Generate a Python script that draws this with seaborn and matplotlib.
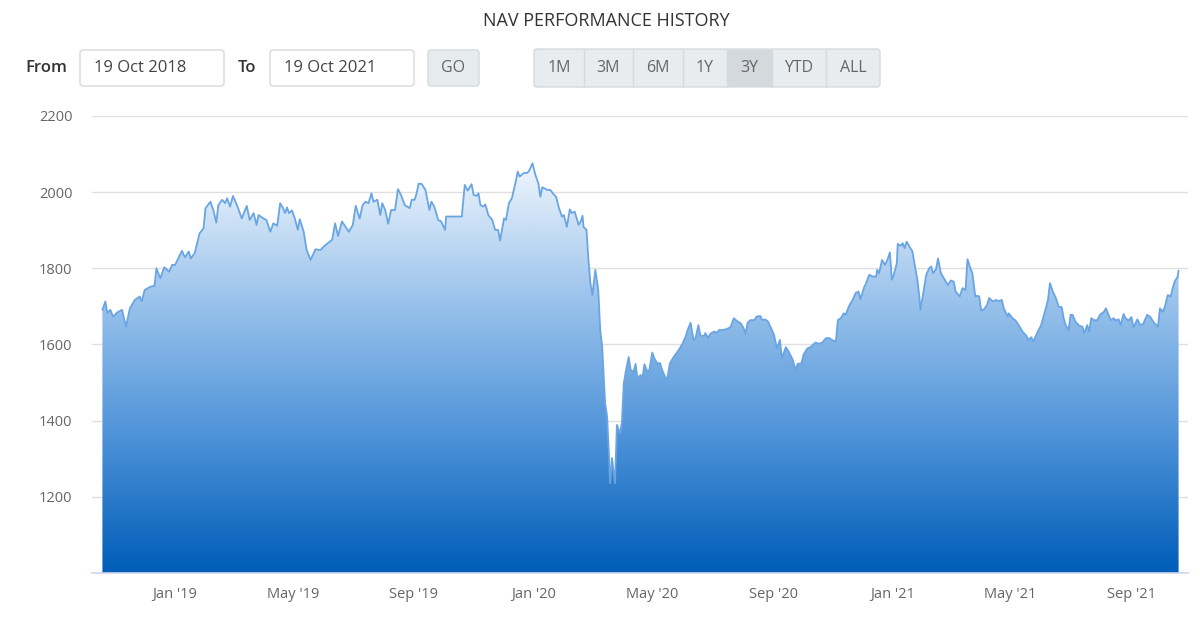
import numpy as np
import pandas as pd
import matplotlib
matplotlib.use("Agg")
import matplotlib.pyplot as plt
import matplotlib.dates as mdates
from matplotlib.colors import LinearSegmentedColormap
from matplotlib.patches import FancyBboxPatch, Rectangle
import seaborn as sns

# ---------------- data ----------------
start_date = "2018-10-19"
end_date = "2021-10-19"
# trading-day offsets (days since start_date) and NAV values
day_offsets = [
    0, 3, 5, 8, 11, 15, 20, 24, 28, 33, 38, 40, 43, 49, 53, 55, 59, 63, 68, 71,
    74, 81, 84, 88, 90, 94, 99, 103, 105, 110, 113, 116, 118, 122, 125, 127, 130, 133, 137, 142,
    147, 150, 154, 157, 159, 164, 167, 171, 174, 178, 181, 184, 186, 188, 190, 193, 196, 199, 201, 205,
    208, 212, 217, 222, 227, 234, 237, 240, 244, 251, 255, 258, 262, 265, 268, 271, 274, 276, 280, 283,
    285, 288, 291, 294, 298, 301, 304, 308, 313, 315, 318, 320, 322, 325, 329, 333, 335, 338, 342, 345,
    349, 350, 366, 369, 372, 376, 378, 381, 383, 385, 388, 390, 393, 397, 400, 403, 405, 409, 411, 414,
    417, 421, 423, 425, 429, 433, 435, 438, 441, 444, 446, 448, 453, 456, 460, 462, 465, 468, 470, 473,
    476, 478, 481, 485, 487, 489, 490, 493, 495, 497, 499, 502, 505, 507, 509, 512, 514, 516, 517, 519,
    522, 524, 527, 529, 531, 533, 536, 538, 541, 543, 545, 548, 550, 552, 555, 557, 560, 562, 565, 568,
    570, 573, 575, 578, 582, 587, 591, 594, 596, 599, 602, 604, 607, 609, 613, 614, 617, 619, 623, 626,
    628, 631, 635, 638, 640, 643, 647, 650, 653, 655, 657, 660, 664, 666, 670, 672, 675, 678, 681, 684,
    687, 690, 692, 696, 699, 703, 706, 708, 712, 714, 718, 721, 726, 730, 733, 737, 740, 743, 747, 749,
    752, 755, 757, 760, 764, 767, 770, 772, 776, 777, 781, 784, 788, 789, 791, 794, 797, 800, 802, 804,
    806, 809, 810, 813, 815, 817, 819, 822, 825, 827, 830, 832, 833, 836, 839, 842, 844, 846, 849, 851,
    854, 857, 861, 864, 867, 869, 873, 876, 879, 881, 884, 886, 889, 891, 893, 895, 898, 901, 903, 907,
    910, 913, 916, 918, 922, 923, 927, 930, 934, 937, 941, 943, 946, 948, 952, 956, 959, 963, 965, 968,
    971, 974, 977, 979, 981, 984, 986, 988, 991, 995, 998, 1000, 1003, 1005, 1007, 1010, 1013, 1016, 1020, 1022,
    1024, 1027, 1030, 1032, 1035, 1037, 1040, 1042, 1045, 1048, 1050, 1054, 1057, 1060, 1064, 1067, 1071, 1075, 1077, 1080,
    1082, 1085, 1088, 1090, 1092, 1095, 1096,
]
nav_values = [
    1691, 1713, 1683, 1691, 1673, 1684, 1691, 1647, 1695, 1717, 1726, 1713, 1743, 1752, 1754, 1800, 1774, 1803, 1791, 1809,
    1809, 1846, 1829, 1844, 1826, 1840, 1892, 1905, 1958, 1975, 1953, 1920, 1966, 1980, 1971, 1984, 1962, 1990, 1966, 1931,
    1964, 1927, 1945, 1914, 1940, 1931, 1927, 1896, 1918, 1912, 1971, 1958, 1945, 1960, 1945, 1952, 1931, 1901, 1929, 1896,
    1848, 1822, 1850, 1848, 1861, 1875, 1918, 1885, 1923, 1896, 1914, 1964, 1931, 1966, 1975, 1971, 1997, 1975, 1980, 1940,
    1971, 1953, 1917, 1953, 1953, 2008, 1993, 1966, 1958, 1980, 1980, 1997, 2022, 2022, 2006, 1953, 1975, 1962, 1927, 1923,
    1901, 1936, 1936, 2019, 2004, 2021, 1993, 1990, 1997, 1966, 1962, 1968, 1940, 1927, 1901, 1901, 1873, 1931, 1927, 1971,
    1984, 2028, 2054, 2041, 2050, 2051, 2058, 2076, 2045, 2023, 1988, 2013, 2006, 2006, 1993, 1988, 1958, 1936, 1940, 1909,
    1955, 1945, 1949, 1914, 1923, 1938, 1909, 1901, 1822, 1761, 1730, 1796, 1743, 1638, 1594, 1446, 1411, 1306, 1236, 1302,
    1236, 1389, 1367, 1393, 1498, 1529, 1567, 1533, 1529, 1549, 1510, 1520, 1512, 1548, 1529, 1533, 1579, 1564, 1551, 1551,
    1533, 1516, 1507, 1551, 1568, 1586, 1603, 1621, 1638, 1657, 1612, 1617, 1651, 1623, 1623, 1630, 1617, 1628, 1634, 1631,
    1638, 1638, 1640, 1643, 1647, 1669, 1660, 1656, 1643, 1628, 1657, 1664, 1664, 1673, 1675, 1664, 1666, 1660, 1643, 1625,
    1590, 1612, 1564, 1593, 1581, 1560, 1533, 1549, 1551, 1573, 1590, 1593, 1605, 1602, 1605, 1617, 1617, 1612, 1608, 1664,
    1669, 1682, 1678, 1699, 1717, 1735, 1739, 1719, 1752, 1756, 1783, 1779, 1778, 1796, 1787, 1822, 1809, 1826, 1842, 1770,
    1783, 1813, 1864, 1859, 1866, 1853, 1870, 1857, 1844, 1813, 1770, 1726, 1691, 1735, 1783, 1800, 1805, 1787, 1798, 1826,
    1787, 1774, 1756, 1768, 1765, 1739, 1726, 1748, 1743, 1824, 1800, 1787, 1726, 1728, 1726, 1689, 1693, 1704, 1722, 1713,
    1717, 1714, 1717, 1695, 1673, 1682, 1669, 1663, 1647, 1634, 1623, 1612, 1619, 1608, 1630, 1651, 1678, 1717, 1761, 1739,
    1722, 1699, 1698, 1669, 1651, 1638, 1678, 1678, 1660, 1649, 1647, 1630, 1651, 1634, 1669, 1664, 1663, 1678, 1686, 1695,
    1682, 1664, 1669, 1663, 1666, 1651, 1680, 1669, 1663, 1672, 1645, 1666, 1651, 1654, 1678, 1673, 1657, 1647, 1695, 1686,
    1699, 1730, 1726, 1748, 1765, 1778, 1794,
]
y_ticks = [1200, 1400, 1600, 1800, 2000, 2200]
x_tick_dates = ["2019-01-01", "2019-05-01", "2019-09-01", "2020-01-01", "2020-05-01",
                "2020-09-01", "2021-01-01", "2021-05-01", "2021-09-01"]
x_tick_labels = ["Jan '19", "May '19", "Sep '19", "Jan '20", "May '20",
                 "Sep '20", "Jan '21", "May '21", "Sep '21"]
title_text = "NAV PERFORMANCE HISTORY"
from_text, to_text = "From", "To"
from_value, to_value = "19 Oct 2018", "19 Oct 2021"
go_text = "GO"
range_buttons = ["1M", "3M", "6M", "1Y", "3Y", "YTD", "ALL"]
selected_button = "3Y"

# ---------------- build frame ----------------
dates = pd.Timestamp(start_date) + pd.to_timedelta(day_offsets, unit="D")
df = pd.DataFrame({"date": dates, "nav": nav_values})

sns.set_theme(style="white")
plt.rcParams["font.family"] = ["Open Sans", "DejaVu Sans"]

W, H = 1200, 621
fig = plt.figure(figsize=(W / 100, H / 100), dpi=100)
fig.patch.set_facecolor("white")

# background axes in pixel coordinates for the header controls
bg = fig.add_axes([0, 0, 1, 1], zorder=0)
bg.set_xlim(0, W)
bg.set_ylim(H, 0)
bg.axis("off")

txt_dark = "#333333"
txt_gray = "#666666"
bg.text(606, 21, title_text, ha="center", va="center", fontsize=13, color=txt_dark)
bg.text(25, 68.5, from_text, ha="left", va="center", fontsize=12, color=txt_dark, fontweight="semibold")
bg.text(238, 68.5, to_text, ha="left", va="center", fontsize=12, color=txt_dark, fontweight="semibold")

def box(x0, x1, y0, y1, fc, ec, r=3):
    p = FancyBboxPatch((x0 + r, y0 + r), (x1 - x0) - 2 * r, (y1 - y0) - 2 * r,
                       boxstyle=f"round,pad={r}", fc=fc, ec=ec, lw=1.0)
    bg.add_patch(p)

box(80, 224, 50, 86, "white", "#d9d9d9")
bg.text(94, 68.5, from_value, ha="left", va="center", fontsize=12, color="#444444")
box(270, 414, 50, 86, "white", "#d9d9d9")
bg.text(284, 68.5, to_value, ha="left", va="center", fontsize=12, color="#444444")
box(428, 479, 50, 86, "#e6ebed", "#d6dadd")
bg.text(453.5, 68.5, go_text, ha="center", va="center", fontsize=11.5, color=txt_gray)

btn_edges = [534, 584, 633, 683, 727, 772, 826, 880]
box(btn_edges[0], btn_edges[-1], 49, 87, "#e8ecee", "#d6dadd")
for i, lab in enumerate(range_buttons):
    x0, x1 = btn_edges[i], btn_edges[i + 1]
    if lab == selected_button:
        bg.add_patch(Rectangle((x0, 49.5), x1 - x0, 37, fc="#d3d9dc", ec="none"))
    if i > 0:
        bg.plot([x0, x0], [49.5, 86.5], color="#d6dadd", lw=1.0)
    bg.text((x0 + x1) / 2, 68.5, lab, ha="center", va="center", fontsize=11.5, color=txt_gray)

# ---------------- main chart ----------------
left_px, right_px, top_px, bot_px = 92, 1188, 116, 573
ax = fig.add_axes([left_px / W, (H - bot_px) / H, (right_px - left_px) / W, (bot_px - top_px) / H], zorder=1)
ax.set_facecolor("none")

x0 = pd.Timestamp(start_date) - pd.Timedelta(days=10.6)
x1 = pd.Timestamp(end_date) + pd.Timedelta(days=9.6)
ax.set_xlim(x0, x1)
ax.set_ylim(1000, 2200)

# gradient area
poly = ax.fill_between(df["date"], df["nav"], 1000, color="none", lw=0)
cmap = LinearSegmentedColormap.from_list("navgrad", ["#005db8", "#4f93d9", "#9cc4ec", "#f2f7fd"])
grad = np.linspace(0, 1, 512).reshape(-1, 1)
xa, xb = mdates.date2num(df["date"].iloc[0]), mdates.date2num(df["date"].iloc[-1])
im = ax.imshow(grad, extent=[xa, xb, 1000, 2085], origin="lower", aspect="auto",
               cmap=cmap, zorder=2, interpolation="bilinear")
path = poly.get_paths()[0]
im.set_clip_path(path, transform=ax.transData)

sns.lineplot(data=df, x="date", y="nav", ax=ax, color="#6aa5e3", linewidth=1.3, zorder=3)

# axes styling
ax.set_xlabel("")
ax.set_ylabel("")
ax.set_yticks(y_ticks)
ax.set_yticklabels([str(v) for v in y_ticks])
ax.yaxis.grid(True, color="#e0e0e0", linewidth=1.0, zorder=0)
ax.xaxis.grid(False)
ax.set_axisbelow(True)
ax.tick_params(axis="y", length=0, pad=14, labelsize=10.5, labelcolor=txt_gray)
ax.set_xticks(pd.to_datetime(x_tick_dates))
ax.set_xticklabels(x_tick_labels)
ax.tick_params(axis="x", length=8, width=1, color="#ccd6eb", pad=2, labelsize=10.5,
               labelcolor=txt_gray, direction="out")
for s in ["top", "right", "left"]:
    ax.spines[s].set_visible(False)
ax.spines["bottom"].set_color("#ccd6eb")
ax.spines["bottom"].set_linewidth(1.2)
ax.spines["bottom"].set_zorder(4)

fig.savefig("out.png", dpi=100, facecolor="white")
